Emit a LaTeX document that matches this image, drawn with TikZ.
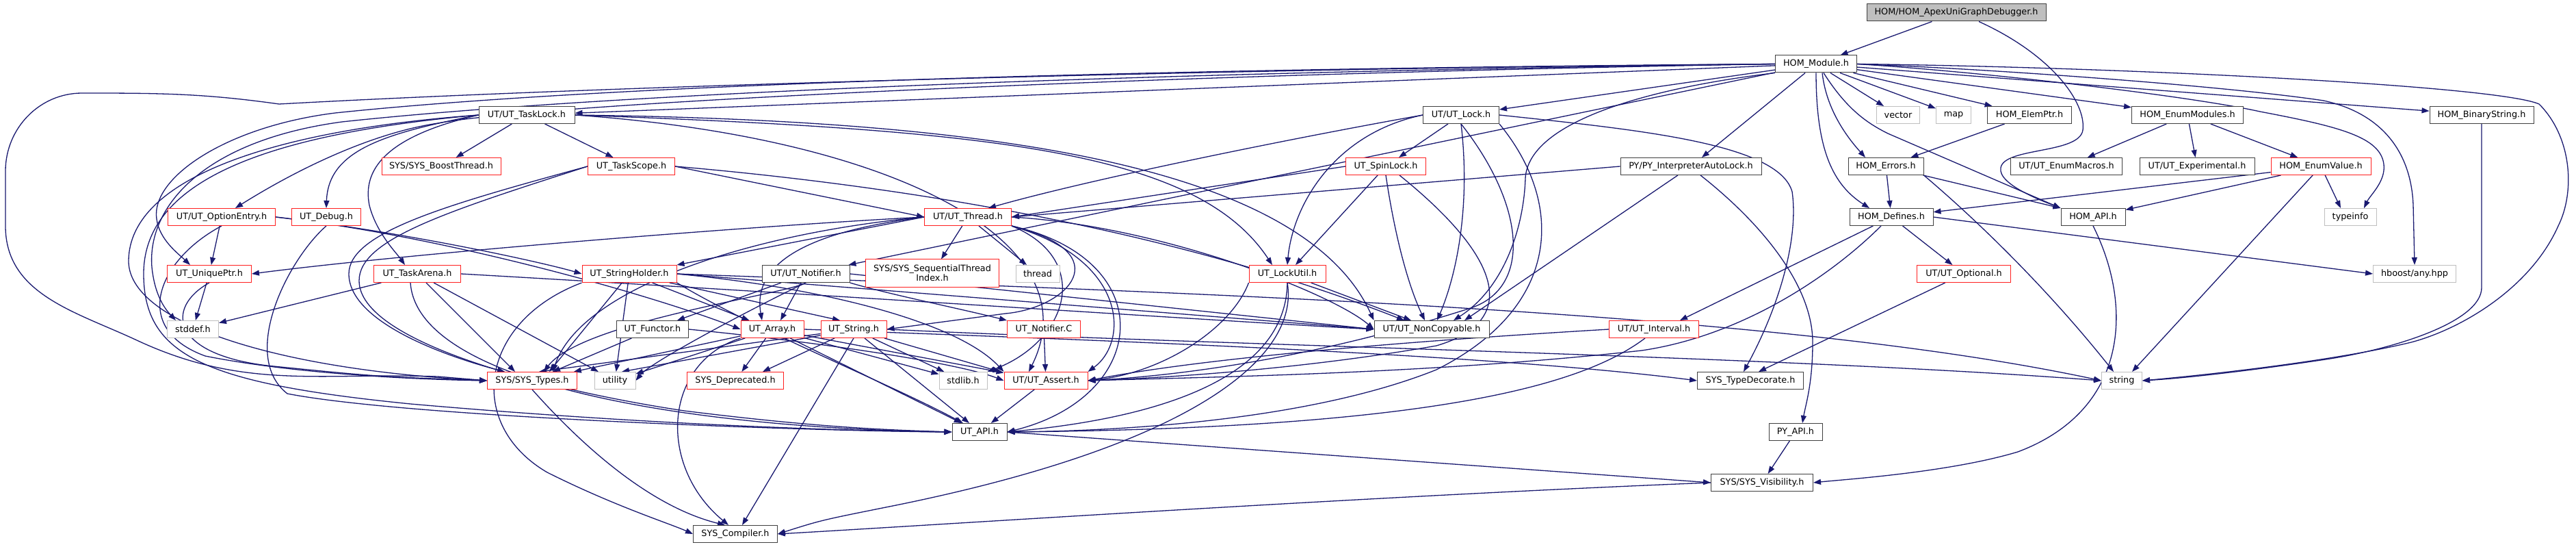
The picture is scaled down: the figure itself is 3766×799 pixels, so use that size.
\documentclass[tikz,border=0pt]{standalone}
\usepackage{fontspec}
\setmainfont{DejaVu Sans}
\usetikzlibrary{arrows.meta}
\definecolor{edgec}{HTML}{191970}
\definecolor{redc}{HTML}{FF2020}
\definecolor{grayc}{HTML}{BFBFBF}
\definecolor{blkc}{HTML}{404040}
\pgfdeclarelayer{back}
\pgfdeclarelayer{bg}
\pgfsetlayers{back,bg,main}
\begin{document}
\begin{tikzpicture}[x=1pt,y=-1pt]
\tikzset{
 nd/.style={font=\fontsize{12.8pt}{15pt}\selectfont, inner sep=0pt, minimum height=25pt, line width=1pt, fill=white, anchor=center},
 bk/.style={nd, draw=blkc},
 rd/.style={nd, draw=redc},
 gy/.style={nd, draw=grayc},
 ed/.style={draw=edgec, line width=1.3pt, -{Triangle[length=11pt,width=8pt]}},
}
\begin{pgfonlayer}{back}
\fill[white] (0,0) rectangle (3766,799);
\end{pgfonlayer}
\useasboundingbox (0,0) rectangle (3766,799);
% row 0-1
\node[bk,fill=grayc,minimum width=262pt] (apex) at (2860,18.5) {HOM/HOM\_ApexUniGraphDebugger.h};
\node[bk,minimum width=119pt] (module) at (2655,93.5) {HOM\_Module.h};
% row 2
\node[bk,minimum width=140pt] (tasklock) at (770,168) {UT/UT\_TaskLock.h};
\node[bk,minimum width=111pt] (lock) at (2136,168) {UT/UT\_Lock.h};
\node[gy,minimum width=63pt] (vector) at (2775,168) {vector};
\node[gy,minimum width=51pt] (map) at (2856,168) {map};
\node[bk,minimum width=123pt] (elemptr) at (2967,168) {HOM\_ElemPtr.h};
\node[bk,minimum width=163pt] (enummod) at (3198,168) {HOM\_EnumModules.h};
\node[bk,minimum width=152pt] (binstr) at (3628,168) {HOM\_BinaryString.h};
% row 3
\node[rd,minimum width=174pt] (boost) at (645,243) {SYS/SYS\_BoostThread.h};
\node[rd,minimum width=127pt] (taskscope) at (923,243) {UT\_TaskScope.h};
\node[rd,minimum width=117pt] (spinlock) at (2026,243) {UT\_SpinLock.h};
\node[bk,minimum width=206pt] (pyauto) at (2472,243) {PY/PY\_InterpreterAutoLock.h};
\node[bk,minimum width=110pt] (errors) at (2757,243) {HOM\_Errors.h};
\node[bk,minimum width=163pt] (enummacros) at (3021,243) {UT/UT\_EnumMacros.h};
\node[bk,minimum width=168pt] (experimental) at (3212,243) {UT/UT\_Experimental.h};
\node[rd,minimum width=146pt] (enumvalue) at (3393,243) {HOM\_EnumValue.h};
% row 4
\node[rd,minimum width=157pt] (optentry) at (324,317) {UT/UT\_OptionEntry.h};
\node[rd,minimum width=101pt] (debug) at (477,317) {UT\_Debug.h};
\node[rd,minimum width=127pt] (thread) at (1415,317) {UT/UT\_Thread.h};
\node[bk,minimum width=122pt] (defines) at (2765,317) {HOM\_Defines.h};
\node[bk,minimum width=94pt] (homapi) at (3060,317) {HOM\_API.h};
\node[gy,minimum width=76pt] (typeinfo) at (3436,317) {typeinfo};
% row 5
\node[rd,minimum width=123pt] (uniqueptr) at (306,400) {UT\_UniquePtr.h};
\node[rd,minimum width=127pt] (taskarena) at (610,400) {UT\_TaskArena.h};
\node[rd,minimum width=138pt] (strholder) at (920,400) {UT\_StringHolder.h};
\node[bk,minimum width=128pt] (notifierh) at (1178,400) {UT/UT\_Notifier.h};
\node[rd,minimum width=195pt,minimum height=40pt,align=center,font=\fontsize{12.8pt}{14pt}\selectfont] (seqidx) at (1363,399) {SYS/SYS\_SequentialThread\\Index.h};
\node[gy,minimum width=64pt] (stdthread) at (1517,400) {thread};
\node[rd,minimum width=112pt] (lockutil) at (1882,400) {UT\_LockUtil.h};
\node[rd,minimum width=137pt] (optional) at (2871,400) {UT/UT\_Optional.h};
\node[gy,minimum width=121pt] (anyhpp) at (3530,400) {hboost/any.hpp};
% row 6
\node[gy,minimum width=75pt] (stddef) at (282,481) {stddef.h};
\node[bk,minimum width=105pt] (functor) at (954,481) {UT\_Functor.h};
\node[rd,minimum width=92pt] (array) at (1129,481) {UT\_Array.h};
\node[rd,minimum width=96pt] (utstring) at (1248,481) {UT\_String.h};
\node[rd,minimum width=107pt] (notifierc) at (1526,481) {UT\_Notifier.C};
\node[bk,minimum width=168pt] (noncopy) at (2093,481) {UT/UT\_NonCopyable.h};
\node[rd,minimum width=131pt] (interval) at (2418,481) {UT/UT\_Interval.h};
% row 7
\node[rd,minimum width=131pt] (systypes) at (778,556) {SYS/SYS\_Types.h};
\node[gy,minimum width=60pt] (utility) at (899,556) {utility};
\node[rd,minimum width=141pt] (deprecated) at (1075,556) {SYS\_Deprecated.h};
\node[gy,minimum width=70pt] (stdlib) at (1408,556) {stdlib.h};
\node[rd,minimum width=122pt] (assert) at (1529,556) {UT/UT\_Assert.h};
\node[bk,minimum width=155pt] (typedec) at (2559,556) {SYS\_TypeDecorate.h};
\node[gy,minimum width=59pt] (string) at (3102,556) {string};
% rows 8-10
\node[bk,minimum width=80pt] (utapi) at (1432,631) {UT\_API.h};
\node[bk,minimum width=78pt] (pyapi) at (2625,631) {PY\_API.h};
\node[bk,minimum width=149pt] (visibility) at (2576,705) {SYS/SYS\_Visibility.h};
\node[bk,minimum width=123pt] (compiler) at (1075,780) {SYS\_Compiler.h};

\coordinate (lA) at (408,152);
\coordinate (lB) at (120,136);
\coordinate (lC) at (8,250);
\coordinate (lD) at (8,330);
\coordinate (lE) at (200,497);
\coordinate (lF) at (640,550);

\begin{pgfonlayer}{bg}
% big loop HOM_Module -> SYS_Types
\draw[ed] (module.west) .. controls (1800,100) and (900,125) .. (lA) to[out=172,in=0] (lB) to[out=180,in=90] (lC) -- (lD) to[out=-90,in=155] (lE) to[out=-25,in=178] (lF) -- (systypes.west);
% apex
\draw[ed] (apex) -- (module);
\draw[ed] ([xshift=33pt]apex.south) .. controls (3000,80) and (3050,150) .. (3045,190) .. controls (3040,225) and (2930,215) .. (2925,245) .. controls (2920,270) and (2990,295) .. (homapi.north west);
% module
\foreach \t in {vector,map,elemptr,enummod,binstr,lock,tasklock,pyauto,notifierh} \draw[ed] (module) -- (\t);
\draw[ed] ([xshift=9pt]module.south) .. controls (2670,160) and (2700,200) .. ([xshift=-30pt]errors.north);
\draw[ed] (module.south) .. controls (2655,220) and (2680,270) .. ([xshift=-32pt]defines.north);
\draw[ed] ([xshift=11pt]module.south) .. controls (2700,160) and (2730,180) .. (2760,195) -- (homapi.north west);
\draw[ed] (module.east) .. controls (2900,105) and (3200,140) .. (3304,163) .. controls (3420,185) and (3480,200) .. (3485,240) .. controls (3488,265) and (3465,285) .. ([xshift=20pt]typeinfo.north);
\draw[ed] (module.east) .. controls (2900,100) and (3250,125) .. (3397,147) .. controls (3480,165) and (3525,220) .. (3528,300) -- (anyhpp.north);
\draw[ed] (module.east) .. controls (3100,98) and (3650,125) .. (3712,152) .. controls (3760,200) and (3765,280) .. (3740,330) .. controls (3700,420) and (3600,480) .. (3525,500) .. controls (3400,530) and (3200,550) .. (string.east);
\draw[ed] (module.south west) .. controls (2400,130) and (2235,180) .. (2230,260) .. controls (2228,330) and (2200,420) .. ([xshift=32pt]noncopy.north);
\draw[ed] (module.west) .. controls (1700,100) and (900,122) .. (490,165) .. controls (330,185) and (220,260) .. (229,320) .. controls (233,350) and (260,370) .. ([xshift=-28pt]uniqueptr.north);
\draw[ed] (module.west) .. controls (1700,105) and (900,135) .. (500,178) .. controls (300,205) and (215,300) .. (222,390) .. controls (226,430) and (240,450) .. ([xshift=-25pt]stddef.north);
\draw[ed] (module.west) .. controls (1700,108) and (800,150) .. (640,180) .. controls (540,195) and (430,250) .. ([xshift=20pt]optentry.north);
% HOM side
\draw[ed] (elemptr) -- (errors);
\foreach \t in {enummacros,experimental,enumvalue} \draw[ed] (enummod) -- (\t);
\draw[ed] (errors) -- (defines);
\draw[ed] (errors) -- (homapi.north west);
\draw[ed] (errors.south east) .. controls (2900,330) and (3000,430) .. ([xshift=-12pt]string.north);
\draw[ed] (enumvalue) -- (defines);
\draw[ed] (enumvalue) -- (homapi);
\draw[ed] (enumvalue) -- ([xshift=-14pt]typeinfo.north);
\draw[ed] (enumvalue) -- ([xshift=15pt]string.north);
\draw[ed] (defines) -- (optional);
\draw[ed] (defines) -- ([xshift=38pt]interval.north);
\draw[ed] (defines.east) -- (anyhpp.west);
\draw[ed] ([xshift=-15pt]defines.south) .. controls (2680,400) and (2550,490) .. (2400,512) .. controls (2100,545) and (1800,550) .. (assert.east);
\draw[ed] (optional) -- ([xshift=12pt]typedec.north);
\draw[ed] (binstr.south) -- (3628,420) .. controls (3628,470) and (3500,510) .. (3400,525) .. controls (3300,540) and (3200,552) .. (string.east);
\draw[ed] (homapi.south) .. controls (3120,450) and (3110,600) .. (2950,660) .. controls (2850,690) and (2700,700) .. (visibility.east);
\draw[ed] (pyapi) -- (visibility);
\draw[ed] ([xshift=14pt]pyauto.south) .. controls (2580,330) and (2650,420) .. (2650,500) .. controls (2650,560) and (2640,590) .. ([xshift=10pt]pyapi.north);
\draw[ed] (pyauto) -- ([xshift=48pt]noncopy.north);
\draw[ed] (pyauto.west) -- (thread.east);
% tasklock
\draw[ed] (tasklock) -- (boost);
\draw[ed] (tasklock) -- (taskscope);
\draw[ed] (tasklock.west) .. controls (560,195) and (480,220) .. (debug.north);
\draw[ed] (tasklock.west) .. controls (560,200) and (530,250) .. (540,300) .. controls (550,340) and (580,370) .. ([xshift=-18pt]taskarena.north);
\draw[ed] (tasklock.west) .. controls (400,190) and (190,260) .. (188,380) .. controls (186,470) and (400,540) .. (systypes.west);
\draw[ed] (tasklock.west) .. controls (400,195) and (210,260) .. (210,400) .. controls (210,520) and (300,560) .. (600,590) .. controls (1000,625) and (1300,630) .. (utapi.west);
\draw[ed] (tasklock.east) .. controls (1450,190) and (1750,220) .. ([xshift=-22pt]lockutil.north);
\draw[ed] (tasklock.east) .. controls (1300,200) and (1600,350) .. ([xshift=-25pt]assert.north);
\draw[ed] (tasklock.east) .. controls (1400,175) and (1900,230) .. (noncopy.north west);
% taskscope
\draw[ed] (taskscope.east) -- (thread.west);
\draw[ed] (taskscope.east) .. controls (1300,270) and (1700,330) .. ([xshift=-40pt]noncopy.north);
\draw[ed] (taskscope.west) .. controls (650,300) and (510,340) .. (510,400) .. controls (510,470) and (650,520) .. ([xshift=-40pt]systypes.north);
\draw[ed] (taskscope.west) .. controls (650,310) and (525,350) .. (525,410) .. controls (525,500) and (800,570) .. (1000,600) .. controls (1200,625) and (1300,628) .. (utapi.west);
% taskarena
\draw[ed] (taskarena) -- (stddef);
\draw[ed] (taskarena) -- (utility);
\draw[ed] (taskarena) -- ([xshift=-25pt]systypes.north);
\draw[ed] ([xshift=-10pt]taskarena.south) .. controls (610,560) and (1000,625) .. (utapi.west);
\draw[ed] (taskarena.east) .. controls (1200,430) and (1800,470) .. (noncopy.west);
% debug, optentry, uniqueptr
\draw[ed] (debug.south) .. controls (420,380) and (350,520) .. (420,575) .. controls (600,610) and (1200,630) .. (utapi.west);
\draw[ed] (optentry) -- (uniqueptr);
\draw[ed] (optentry.east) .. controls (600,340) and (800,385) .. (strholder.west);
\draw[ed] (optentry.south) .. controls (230,380) and (190,480) .. (300,520) .. controls (450,550) and (650,555) .. (systypes.west);
\draw[ed] (optentry.east) .. controls (650,345) and (950,430) .. (array.west);
\draw[ed] (uniqueptr) -- (stddef);
\draw[ed] (uniqueptr.south) .. controls (240,450) and (250,520) .. (400,535) .. controls (550,550) .. (systypes.west);
% lock
\draw[ed] (lock) -- (spinlock);
\draw[ed] (lock.west) .. controls (1900,200) and (1600,260) .. ([xshift=30pt]thread.north);
\draw[ed] (lock.west) .. controls (1950,195) and (1890,300) .. (lockutil.north);
\draw[ed] (lock.south) .. controls (2150,300) and (2130,400) .. ([xshift=8pt]noncopy.north);
\draw[ed] (lock.south) .. controls (2230,300) and (2240,420) .. (2150,450) .. controls (1900,530) and (1700,550) .. (assert.east);
\draw[ed] (lock.south east) .. controls (2290,300) and (2280,450) .. (2100,540) .. controls (1900,620) and (1600,630) .. (utapi.east);
\draw[ed] (lock.east) .. controls (2400,190) and (2600,210) .. (2620,280) .. controls (2630,350) and (2600,450) .. ([xshift=-10pt]typedec.north);
% spinlock
\draw[ed] (spinlock.west) -- (thread.east);
\draw[ed] (spinlock) -- ([xshift=12pt]lockutil.north);
\draw[ed] (spinlock.south) .. controls (2040,350) and (2060,420) .. ([xshift=-10pt]noncopy.north);
\draw[ed] ([xshift=20pt]spinlock.south) .. controls (2200,380) and (2220,470) .. (2100,505) .. controls (1900,540) and (1700,552) .. (assert.east);
% lockutil
\draw[ed] (lockutil) -- ([xshift=-30pt]noncopy.north);
\draw[ed] (lockutil.south west) .. controls (1800,480) and (1700,545) .. (assert.east);
\draw[ed] (lockutil.south) .. controls (1880,550) and (1700,610) .. (utapi.east);
\draw[ed] (lockutil.south) .. controls (1900,520) and (1750,650) .. (1300,740) .. controls (1200,760) .. (compiler.east);
% thread
\draw[ed] (thread) -- (seqidx);
\draw[ed] (thread) -- (stdthread);
\draw[ed] (thread.west) -- (strholder.north east);
\draw[ed] (thread.west) .. controls (1100,330) and (600,370) .. (uniqueptr.east);
\draw[ed] (thread.west) .. controls (1100,340) and (850,420) .. ([xshift=30pt]systypes.north);
\draw[ed] (thread.west) .. controls (1250,330) and (1095,360) .. ([xshift=-15pt]array.north);
\draw[ed] (thread.south east) .. controls (1640,370) and (1560,450) .. (1470,458) -- (utstring.east);
\draw[ed] (thread.south east) .. controls (1650,380) and (1650,500) .. (assert.north east);
\draw[ed] (thread.south east) .. controls (1700,380) and (1680,580) .. (utapi.east);
\draw[ed] (thread.east) .. controls (1700,330) and (1950,430) .. (noncopy.west);
\draw[ed] (thread.south east) .. controls (1600,380) and (1560,500) .. (stdlib.north east);
% strholder
\draw[ed] (strholder) -- ([xshift=25pt]systypes.north);
\draw[ed] (strholder) -- (utility);
\draw[ed] (strholder) -- ([xshift=-20pt]utstring.north);
\draw[ed] (strholder) -- (array);
\draw[ed] (strholder.east) .. controls (1200,420) and (1400,470) .. (assert.north west);
\draw[ed] (strholder.south east) .. controls (1100,480) and (1300,560) .. (utapi);
\draw[ed] (strholder.east) -- (noncopy.west);
\draw[ed] (strholder.east) .. controls (1800,430) and (2600,455) .. (string.west);
\draw[ed] (strholder.south west) .. controls (700,470) and (680,620) .. (800,690) .. controls (900,740) and (980,765) .. (compiler.west);
% notifier
\draw[ed] (notifierh) -- (functor);
\draw[ed] (notifierh) -- ([xshift=12pt]array.north);
\draw[ed] (notifierh.south) .. controls (1150,430) and (850,470) .. ([xshift=17pt]systypes.north);
\draw[ed] (notifierh.south) .. controls (1100,450) and (950,530) .. (utility.east);
\draw[ed] (notifierh.south east) .. controls (1300,430) and (1400,450) .. (notifierc.north west);
\draw[ed] (notifierh.east) -- (noncopy.west);
\draw[ed] (notifierc) -- (assert);
\draw[ed] (functor) -- ([xshift=30pt]systypes.north);
\draw[ed] (functor.east) .. controls (1200,500) and (1400,530) .. (assert.west);
% array & string
\draw[ed] (array) -- (systypes);
\draw[ed] (array) -- (utility);
\draw[ed] (array) -- (deprecated);
\draw[ed] (array) -- (stdlib);
\draw[ed] (array) -- (assert);
\draw[ed] (array) -- (utapi);
\draw[ed] (array.east) .. controls (1700,500) and (2200,520) .. (typedec.west);
\draw[ed] (array.south west) .. controls (970,530) and (960,680) .. ([xshift=-10pt]compiler.north);
\draw[ed] (utstring) -- ([xshift=10pt]systypes.north);
\draw[ed] (utstring) -- ([xshift=10pt]utility.north);
\draw[ed] (utstring) -- ([xshift=40pt]deprecated.north);
\draw[ed] (utstring) -- (stdlib);
\draw[ed] (utstring) -- ([xshift=-5pt]assert.north west);
\draw[ed] (utstring) -- ([xshift=-15pt]utapi.north);
\draw[ed] (utstring.south) -- ([xshift=10pt]compiler.north);
\draw[ed] (utstring.east) .. controls (1800,505) and (2600,520) .. (string.west);
% interval
\draw[ed] (interval.west) .. controls (2200,490) and (1800,515) .. (assert.east);
\draw[ed] ([xshift=-13pt]interval.south) .. controls (2330,550) and (2150,625) .. (utapi.east);
% bottom
\draw[ed] (assert) -- (utapi);
\draw[ed] (systypes.south) .. controls (850,650) and (950,740) .. ([xshift=-15pt]compiler.north);
\draw[ed] (utapi.east) -- (visibility.west);
\draw[ed] (visibility.west) .. controls (2000,725) and (1400,765) .. (compiler.east);
\end{pgfonlayer}
\end{tikzpicture}
\end{document}
